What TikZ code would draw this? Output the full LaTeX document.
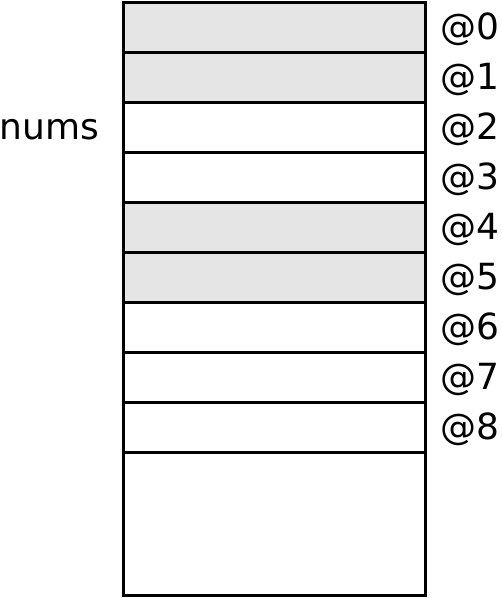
\documentclass[tikz,border=0pt]{standalone}
\usepackage{fontspec}
\setmainfont{DejaVu Sans}
\begin{document}
\begin{tikzpicture}[x=1pt,y=-1pt,
  cell/.style={draw=black, line width=3pt, minimum width=301.5pt, minimum height=50pt, inner sep=0pt, anchor=north west},
  shaded/.style={fill=gray!20},
  lbl/.style={anchor=west, inner sep=0pt, font=\fontsize{36}{42}\selectfont}]
\useasboundingbox (0,0) rectangle (502,598);
\node[cell, shaded] (c0) at (122,1) {};
\node[cell, shaded] (c1) at (122,51) {};
\node[cell] (c2) at (122,101) {};
\node[cell] (c3) at (122,151) {};
\node[cell, shaded] (c4) at (122,201) {};
\node[cell, shaded] (c5) at (122,251) {};
\node[cell] (c6) at (122,301) {};
\node[cell] (c7) at (122,351) {};
\node[cell] (c8) at (122,401) {};
\node[cell, minimum height=143pt] (c9) at (122,451) {};
\foreach \i in {0,...,8} {
  \node[lbl] (l\i) at ([xshift=14pt,yshift=-2pt]c\i.east) {@\i};
}
\node[lbl, anchor=east] (nums) at ([xshift=-22.5pt,yshift=-2pt]c2.west) {nums};
\end{tikzpicture}
\end{document}
